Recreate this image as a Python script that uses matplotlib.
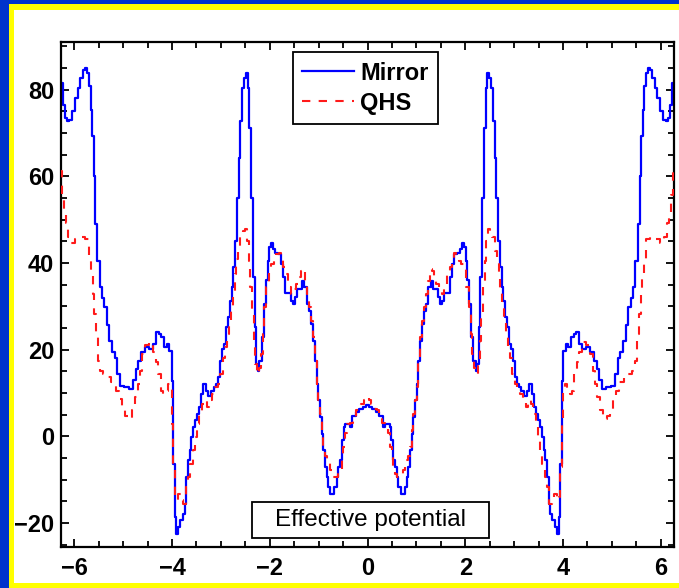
import matplotlib
matplotlib.use('Agg')
import matplotlib.pyplot as plt
import numpy as np
from matplotlib.patches import Rectangle
from matplotlib.ticker import MultipleLocator

plt.rcParams['font.family'] = ['Liberation Sans', 'DejaVu Sans']

# left half of the curves (x <= 0); the chart is mirror symmetric about x = 0
x_mirror = [-6.30, -6.26, -6.21, -6.16, -6.13, -6.09, -6.02, -5.95, -5.90, -5.85, -5.80, -5.76,
            -5.72, -5.68, -5.65, -5.61, -5.58, -5.55, -5.50, -5.46, -5.41, -5.36, -5.31, -5.26,
            -5.21, -5.14, -5.09, -5.03, -4.93, -4.83, -4.78, -4.71, -4.66, -4.59, -4.52, -4.42,
            -4.35, -4.30, -4.25, -4.18, -4.14, -4.08, -4.05, -4.00, -3.98, -3.96, -3.93, -3.90,
            -3.86, -3.81, -3.75, -3.72, -3.69, -3.66, -3.62, -3.59, -3.55, -3.52, -3.47, -3.42,
            -3.38, -3.33, -3.28, -3.23, -3.17, -3.13, -3.08, -3.04, -2.99, -2.96, -2.91, -2.87,
            -2.82, -2.79, -2.77, -2.74, -2.70, -2.65, -2.62, -2.58, -2.55, -2.50, -2.47, -2.43,
            -2.40, -2.36, -2.32, -2.29, -2.26, -2.23, -2.19, -2.14, -2.10, -2.06, -2.03, -2.00,
            -1.96, -1.91, -1.86, -1.79, -1.74, -1.70, -1.66, -1.59, -1.54, -1.51, -1.47, -1.42,
            -1.36, -1.32, -1.26, -1.21, -1.17, -1.13, -1.09, -1.06, -1.02, -0.99, -0.95, -0.92,
            -0.89, -0.85, -0.82, -0.78, -0.74, -0.71, -0.65, -0.61, -0.58, -0.54, -0.50, -0.47,
            -0.44, -0.37, -0.33, -0.29, -0.20, -0.13, -0.06, 0.00]
mirror = [81.5, 81.5, 76.5, 73.5, 72.7, 73.0, 75.0, 78.0, 80.4, 82.7, 84.6, 85.0,
          83.8, 80.8, 75.4, 69.3, 60.0, 49.0, 40.5, 34.4, 32.0, 29.8, 25.6, 22.0,
          19.4, 18.2, 14.4, 11.7, 11.4, 11.0, 13.0, 15.6, 17.5, 19.4, 20.6, 20.2,
          21.3, 24.0, 23.6, 22.9, 20.6, 21.3, 19.8, 19.8, 12.9, -6.3, -18.5, -22.4,
          -20.8, -19.3, -17.8, -15.5, -9.4, -5.5, -3.2, -0.1, 2.2, 3.7, 5.2, 6.8,
          9.8, 12.1, 10.6, 9.4, 10.6, 11.4, 12.1, 13.7, 17.5, 20.2, 21.3, 25.2,
          27.5, 31.3, 34.4, 39.0, 45.1, 55.1, 64.3, 72.7, 80.4, 82.7, 83.8, 80.4,
          71.2, 55.1, 36.7, 25.2, 16.7, 15.2, 17.5, 22.9, 30.6, 36.0, 40.5, 43.6,
          44.7, 43.2, 42.4, 42.0, 39.7, 36.7, 33.2, 33.2, 31.3, 30.5, 32.1, 34.0,
          34.0, 35.9, 34.4, 30.5, 29.0, 25.9, 22.1, 17.5, 12.1, 8.3, 4.5, 0.6,
          -3.2, -7.0, -9.3, -11.6, -13.2, -13.2, -11.6, -9.4, -7.0, -5.5, -0.9, 2.1,
          2.9, 2.9, 2.1, 4.8, 5.6, 6.4, 6.8, 7.2]

x_qhs = [-6.30, -6.26, -6.23, -6.19, -6.16, -6.10, -6.04, -5.92, -5.82, -5.72, -5.67, -5.63,
         -5.61, -5.58, -5.53, -5.49, -5.44, -5.38, -5.27, -5.21, -5.10, -5.05, -4.98, -4.93,
         -4.86, -4.78, -4.73, -4.68, -4.64, -4.59, -4.51, -4.42, -4.35, -4.31, -4.25, -4.20,
         -4.15, -4.12, -4.06, -4.01, -3.98, -3.96, -3.93, -3.90, -3.84, -3.79, -3.74, -3.69,
         -3.65, -3.60, -3.55, -3.52, -3.47, -3.41, -3.37, -3.31, -3.26, -3.22, -3.16, -3.09,
         -3.04, -2.99, -2.94, -2.90, -2.86, -2.81, -2.77, -2.73, -2.70, -2.66, -2.63, -2.58,
         -2.53, -2.49, -2.45, -2.41, -2.38, -2.34, -2.31, -2.28, -2.24, -2.21, -2.16, -2.13,
         -2.10, -2.05, -2.00, -1.94, -1.89, -1.84, -1.79, -1.74, -1.70, -1.66, -1.59, -1.54,
         -1.49, -1.43, -1.38, -1.34, -1.29, -1.26, -1.21, -1.17, -1.13, -1.09, -1.06, -1.02,
         -0.99, -0.95, -0.92, -0.89, -0.85, -0.81, -0.74, -0.70, -0.65, -0.61, -0.58, -0.54,
         -0.51, -0.48, -0.44, -0.39, -0.33, -0.27, -0.21, -0.16, -0.10, -0.05, 0.00]
qhs = [61.2, 61.2, 55.8, 51.2, 49.3, 45.9, 44.7, 45.5, 45.9, 45.5, 40.5, 37.4,
       32.8, 28.2, 23.6, 17.5, 15.2, 14.4, 13.7, 12.5, 10.6, 8.7, 6.0, 4.8,
       4.1, 6.0, 9.1, 12.1, 15.2, 19.0, 21.0, 21.7, 19.4, 17.1, 14.4, 10.6,
       9.8, 10.6, 12.1, 11.4, 2.9, -7.1, -13.9, -14.7, -13.2, -14.7, -15.5, -11.6,
       -9.4, -6.3, -3.2, -0.1, 2.9, 5.2, 7.5, 8.3, 6.8, 8.3, 9.8, 11.4,
       12.1, 14.4, 18.2, 20.6, 23.6, 26.7, 29.8, 33.6, 37.4, 40.9, 42.8, 45.9,
       47.4, 47.8, 45.1, 40.5, 34.4, 28.2, 22.1, 16.7, 14.4, 15.9, 19.0, 23.6,
       29.8, 34.4, 39.0, 39.7, 40.5, 42.0, 42.4, 41.2, 39.0, 37.4, 34.4, 32.8,
       34.0, 35.1, 36.7, 38.2, 38.6, 35.9, 32.8, 29.8, 26.7, 22.9, 17.5, 11.4,
       8.3, 5.2, 1.4, -2.4, -4.5, -5.5, -7.8, -9.3, -9.3, -9.3, -8.6, -7.8,
       -4.0, -2.4, 0.7, 2.9, 3.0, 4.5, 6.0, 6.4, 7.5, 8.5, 9.1]


def mirrored(xh, yh):
    xh = np.asarray(xh)
    yh = np.asarray(yh)
    return np.concatenate([xh, -xh[-2::-1]]), np.concatenate([yh, yh[-2::-1]])


xm, ym = mirrored(x_mirror, mirror)
xq, yq = mirrored(x_qhs, qhs)

W, H = 679, 588
fig = plt.figure(figsize=(W / 100, H / 100), dpi=100)
fig.patch.set_facecolor('white')

# blue / yellow frame of the slide
def px_rect(x0, y0, x1, y1, color):
    fig.add_artist(Rectangle((x0 / W, 1 - y1 / H), (x1 - x0) / W, (y1 - y0) / H,
                             transform=fig.transFigure, color=color, lw=0, zorder=-5))

px_rect(0, 0, W, 4, '#0033cc')
px_rect(0, 0, 9, H, '#0033cc')
px_rect(9, 4, W, 10, '#ffff00')
px_rect(9, 4, 14, H, '#ffff00')
px_rect(9, 583, W, H, '#ffff00')

ax = fig.add_axes([61 / W, 1 - 547 / H, 613 / W, 505 / H])
ax.plot(xm, ym, color='#0000ff', lw=1.6, drawstyle='steps-mid', label='Mirror', zorder=2)
ax.plot(xq, yq, color='#ff1a1a', lw=1.5, ls=(0, (4, 4)), drawstyle='steps-mid',
        label='QHS', zorder=3)

ax.set_xlim(-6.27, 6.27)
ax.set_ylim(-25.5, 91)
ax.set_xticks([-6, -4, -2, 0, 2, 4, 6])
ax.set_yticks([-20, 0, 20, 40, 60, 80])
ax.xaxis.set_minor_locator(MultipleLocator(0.5))
ax.yaxis.set_minor_locator(MultipleLocator(5))
ax.tick_params(which='both', direction='in', top=True, right=True, width=1.3)
ax.tick_params(which='major', length=6, labelsize=17)
ax.tick_params(which='minor', length=4)
ax.tick_params(axis='x', pad=7)
ax.tick_params(axis='y', pad=5)
for lab in ax.get_xticklabels() + ax.get_yticklabels():
    lab.set_fontweight('bold')
for sp in ax.spines.values():
    sp.set_linewidth(1.6)

leg = ax.legend(loc='upper left', bbox_to_anchor=(0.378, 0.98), fancybox=False,
                edgecolor='black', framealpha=1, prop={'weight': 'bold', 'size': 17},
                handlelength=2.2, borderpad=0.4, labelspacing=0.3, handletextpad=0.25,
                borderaxespad=0)
leg.get_frame().set_linewidth(1.3)

ax.add_patch(Rectangle((0.3116, 0.0178), 0.3866, 0.0713, transform=ax.transAxes,
                       facecolor='white', edgecolor='black', lw=1.3, zorder=4))
ax.text(0.505, 0.0535, 'Effective potential', transform=ax.transAxes, ha='center',
        va='center', fontsize=17.5, zorder=5)

fig.savefig('out.png', dpi=100)
